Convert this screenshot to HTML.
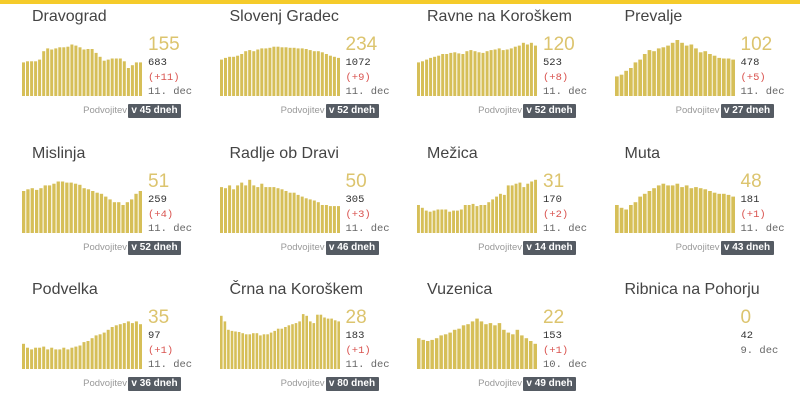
<!DOCTYPE html>
<html><head><meta charset="utf-8"><style>
body{margin:0;width:800px;height:407px;background:#fff;overflow:hidden;font-family:"Liberation Sans",sans-serif;position:relative}
.top{position:absolute;left:0;top:0;width:800px;height:4px;background:#f5cb2a}
.p{position:absolute;width:197px;height:136px}
.t{position:absolute;left:10px;top:8px;font-size:16px;color:#444}
svg{position:absolute;left:0;top:0}
.b{position:absolute;left:126px;top:34px;font-size:19px;color:#dcc46e}
.n{position:absolute;left:126px;top:57px;font-size:10.5px;color:#333;font-family:"Liberation Mono",monospace}
.d{position:absolute;left:126px;top:72px;font-size:10.5px;color:#d9534f;font-family:"Liberation Mono",monospace}
.dt{position:absolute;left:126px;top:86px;font-size:10.5px;color:#666;font-family:"Liberation Mono",monospace}
.pv{position:absolute;right:92px;top:105px;font-size:9.5px;color:#999}
.bx{position:absolute;left:106px;top:104px;width:53px;height:14px;background:#555b63;color:#fff;font-size:10px;font-weight:bold;text-align:center;line-height:14px;border-radius:1px}
</style></head><body><div class="top"></div><div id="c"></div>
<script>
const P=[
["Dravograd","155","683","(+11)","11. dec","v 45 dneh",[.6,.62,.62,.62,.65,.8,.85,.83,.85,.87,.87,.88,.92,.9,.87,.83,.84,.84,.77,.7,.63,.65,.67,.67,.67,.62,.5,.55,.6,.6]],
["Slovenj Gradec","234","1072","(+9)","11. dec","v 52 dneh",[.65,.68,.7,.7,.72,.75,.8,.82,.8,.83,.85,.85,.86,.88,.88,.87,.87,.86,.86,.85,.85,.84,.82,.8,.8,.78,.75,.72,.7,.68]],
["Ravne na Koroškem","120","523","(+8)","11. dec","v 52 dneh",[.6,.62,.65,.68,.7,.72,.75,.75,.77,.78,.76,.75,.8,.82,.8,.78,.77,.8,.82,.83,.85,.82,.83,.85,.88,.9,.95,.92,.95,.9]],
["Prevalje","102","478","(+5)","11. dec","v 27 dneh",[.35,.38,.45,.5,.6,.65,.75,.82,.8,.85,.87,.9,.95,1,.95,.9,.92,.85,.78,.8,.75,.72,.68,.67,.67,.65]],
["Mislinja","51","259","(+4)","11. dec","v 52 dneh",[.75,.78,.8,.77,.8,.85,.85,.88,.92,.92,.9,.9,.88,.86,.8,.78,.75,.72,.7,.65,.6,.55,.55,.5,.55,.6,.7,.75]],
["Radlje ob Dravi","50","305","(+3)","11. dec","v 46 dneh",[.82,.8,.85,.78,.85,.9,.85,.95,.85,.82,.88,.82,.82,.82,.8,.78,.75,.72,.72,.68,.65,.62,.6,.58,.55,.5,.5,.48,.48,.48]],
["Mežica","31","170","(+2)","11. dec","v 14 dneh",[.5,.45,.4,.38,.4,.42,.42,.42,.38,.4,.4,.42,.5,.5,.52,.48,.5,.5,.55,.6,.65,.7,.68,.85,.85,.88,.9,.82,.88,.92,.95]],
["Muta","48","181","(+1)","11. dec","v 43 dneh",[.5,.45,.42,.5,.55,.65,.7,.75,.8,.85,.88,.85,.85,.88,.82,.85,.8,.82,.8,.78,.75,.72,.7,.7,.68,.65]],
["Podvelka","35","97","(+1)","11. dec","v 36 dneh",[.45,.38,.35,.38,.38,.4,.35,.38,.35,.35,.38,.35,.38,.4,.42,.48,.5,.55,.6,.62,.65,.7,.75,.78,.8,.82,.85,.82,.85,.8]],
["Črna na Koroškem","28","183","(+1)","11. dec","v 80 dneh",[.95,.85,.7,.68,.67,.66,.64,.62,.62,.64,.64,.6,.62,.62,.65,.68,.72,.72,.75,.78,.8,.82,.85,.98,.95,.85,.82,.97,.97,.92,.9,.9,.87,.85]],
["Vuzenica","22","153","(+1)","10. dec","v 49 dneh",[.55,.52,.5,.52,.55,.6,.62,.65,.7,.72,.78,.8,.85,.9,.85,.8,.82,.78,.82,.7,.65,.62,.7,.6,.55,.5,.45]],
["Ribnica na Pohorju","0","42","","9. dec","",[]]];
let h="";
P.forEach((p,i)=>{const c=i%4,r=Math.floor(i/4);const x=22+c*197.5,y=[0,137,273][r];
let s='<svg width="130" height="110">';const n=p[6].length,w=121/ n;
p[6].forEach((v,j)=>{const hh=v*56;s+=`<rect x="${(j*w).toFixed(1)}" y="${(96-hh).toFixed(1)}" width="${(w-1).toFixed(1)}" height="${hh.toFixed(1)}" fill="#d6bf58"/>`});s+='</svg>';
h+=`<div class="p" style="left:${x}px;top:${y}px">${s}<div class="t">${p[0]}</div><div class="b">${p[1]}</div><div class="n">${p[2]}</div>`+(p[3]?`<div class="d">${p[3]}</div><div class="dt">${p[4]}</div>`:`<div class="dt" style="top:72px">${p[4]}</div>`)+(p[5]?`<div class="pv">Podvojitev</div><div class="bx">${p[5]}</div>`:'')+'</div>';});
document.getElementById('c').innerHTML=h;
</script></body></html>
